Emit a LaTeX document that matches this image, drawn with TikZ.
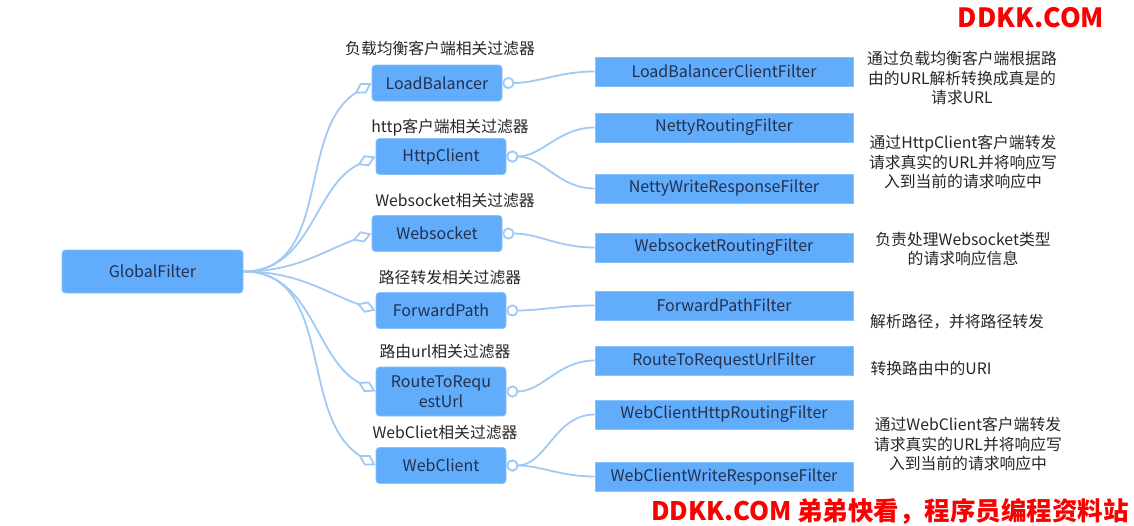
\documentclass[tikz,border=0pt]{standalone}
\usepackage{fontspec}
\setmainfont{Noto Sans CJK SC}
\usetikzlibrary{arrows.meta}
\definecolor{boxblue}{RGB}{98,172,252}
\definecolor{linkblue}{RGB}{160,202,245}
\definecolor{txtdark}{RGB}{35,48,78}
\definecolor{wmred}{RGB}{250,0,0}
\begin{document}
\begin{tikzpicture}[x=1pt,y=-1pt,
  mid/.style={fill=boxblue,draw=boxblue!75!white,line width=0.8pt,rounded corners=3.5pt,minimum width=130pt,minimum height=36pt,inner sep=1pt,align=center,font=\fontsize{16}{20}\selectfont,text=txtdark},
  leaf/.style={fill=boxblue,draw=boxblue!75!white,line width=0.8pt,minimum width=258pt,minimum height=29pt,inner sep=1pt,font=\fontsize{16}{19}\selectfont,text=txtdark},
  captxt/.style={font=\fontsize{15.8}{19}\selectfont,text=black!85},
  desc/.style={font=\fontsize{15.8}{19.5}\selectfont,text=black!85,align=center},
  fan/.style={draw=linkblue,line width=1.8pt,-{Diamond[fill=white,length=20pt,width=12pt,line width=1.8pt]}},
  branch/.style={draw=linkblue,line width=1.8pt,{Circle[fill=white,length=12pt,width=12pt,line width=1.8pt]}-},
  wm/.style={font=\bfseries\fontsize{25.5}{28}\selectfont,text=wmred}
]
\useasboundingbox (0,0) rectangle (1134,525);
% root
\node[mid,minimum width=181pt,minimum height=43pt] (gf) at (152.5,271.5) {GlobalFilter};
% middle boxes
\node[mid] (lb) at (437,83) {LoadBalancer};
\node[mid] (hc) at (441,156.5) {HttpClient};
\node[mid] (ws) at (437,233.5) {Websocket};
\node[mid] (fp) at (441,310.5) {ForwardPath};
\node[mid,minimum height=49pt] (ru) at (441,391.5) {RouteToRequ\\estUrl};
\node[mid] (wc) at (441,465.5) {WebClient};
% captions
\node[captxt] (clb) at (440,48) {负载均衡客户端相关过滤器};
\node[captxt] (chc) at (450,128) {http客户端相关过滤器};
\node[captxt] (cws) at (455,201) {Websocket相关过滤器};
\node[captxt] (cfp) at (450,277) {路径转发相关过滤器};
\node[captxt] (cru) at (445,352) {路由url相关过滤器};
\node[captxt] (cwc) at (445,433) {WebCliet相关过滤器};
% leaves
\node[leaf] (f1) at (724,71.5) {LoadBalancerClientFilter};
\node[leaf] (f2) at (724,127.5) {NettyRoutingFilter};
\node[leaf] (f3) at (724,188.5) {NettyWriteResponseFilter};
\node[leaf] (f4) at (724,247.5) {WebsocketRoutingFilter};
\node[leaf] (f5) at (724,305.5) {ForwardPathFilter};
\node[leaf] (f6) at (724,360.5) {RouteToRequestUrlFilter};
\node[leaf] (f7) at (724,414.5) {WebClientHttpRoutingFilter};
\node[leaf] (f8) at (724,476.5) {WebClientWriteResponseFilter};
% descriptions
\node[desc] (d1) at (962,78) {通过负载均衡客户端根据路\\由的URL解析转换成真是的\\请求URL};
\node[desc] (d2) at (963,162) {通过HttpClient客户端转发\\请求真实的URL并将响应写\\入到当前的请求响应中};
\node[desc] (d3) at (963,249) {负责处理Websocket类型\\的请求响应信息};
\node[desc] (d4) at (957,322) {解析路径，并将路径转发};
\node[desc] (d5) at (931,368) {转换路由中的URI};
\node[desc] (d6) at (968,444) {通过WebClient客户端转发\\请求真实的URL并将响应写\\入到当前的请求响应中};
% watermarks
\node[wm,font=\bfseries\fontsize{26.5}{28}\selectfont] (w1) at (1031,18) {DDKK.COM};
\node[wm] (w2) at (890,511) {DDKK.COM 弟弟快看，程序员编程资料站};
% fan connectors
\draw[fan] (gf.east) to[out=0,in=212] (lb.west);
\draw[fan] (gf.east) to[out=0,in=205] (hc.west);
\draw[fan] (gf.east) to[out=0,in=200] (ws.west);
\draw[fan] (gf.east) to[out=0,in=160] (fp.west);
\draw[fan] (gf.east) to[out=0,in=152] (ru.west);
\draw[fan] (gf.east) to[out=0,in=148] (wc.west);
% branch connectors
\draw[branch] (lb.east) to[out=0,in=180] (f1.west);
\draw[branch] (hc.east) to[out=0,in=180] (f2.west);
\draw[branch] (hc.east) to[out=0,in=180] (f3.west);
\draw[branch] (ws.east) to[out=0,in=180] (f4.west);
\draw[branch] (fp.east) to[out=0,in=180] (f5.west);
\draw[branch] (ru.east) to[out=0,in=180] (f6.west);
\draw[branch] (wc.east) to[out=0,in=180] (f7.west);
\draw[branch] (wc.east) to[out=0,in=180] (f8.west);
\end{tikzpicture}
\end{document}
